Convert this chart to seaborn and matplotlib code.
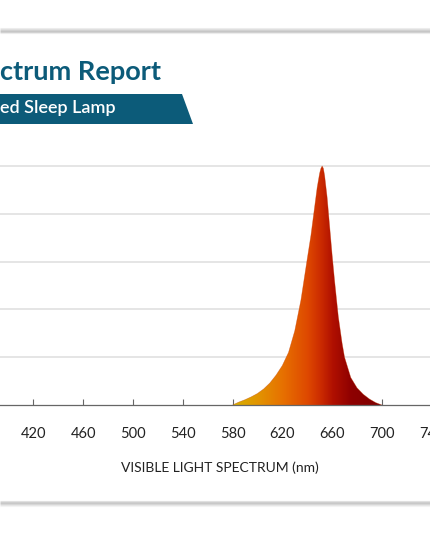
import numpy as np
import matplotlib
matplotlib.use("Agg")
import matplotlib.pyplot as plt
from matplotlib.colors import LinearSegmentedColormap
from matplotlib.patches import Polygon
import seaborn as sns
import pandas as pd

# ---- data ----
wavelength_nm = [580, 585, 590, 595, 600, 605, 610, 615, 620, 625, 630, 635, 640, 643,
                 646, 648, 650, 651, 652, 653, 654, 656, 658, 660, 662, 665, 668, 670,
                 675, 680, 685, 690, 695, 700]
intensity = [0.0, 0.012, 0.022, 0.034, 0.048, 0.067, 0.092, 0.125, 0.165, 0.22, 0.31, 0.44,
             0.61, 0.71, 0.83, 0.91, 0.97, 0.99, 1.0, 0.99, 0.96, 0.87, 0.75, 0.63,
             0.52, 0.37, 0.26, 0.20, 0.115, 0.072, 0.045, 0.025, 0.01, 0.0]
x_ticks = [420, 460, 500, 540, 580, 620, 660, 700, 740]
y_grid = [0.2, 0.4, 0.6, 0.8, 1.0]
title_text = "ctrum Report"
banner_text = "ed Sleep Lamp"
x_label = "VISIBLE LIGHT SPECTRUM (nm)"

grad_nm = [580, 600, 620, 640, 650, 660, 675, 700]
grad_colors = ["#d6b000", "#e29400", "#e77000", "#de4800", "#cc2c00", "#b01000",
               "#8e0000", "#7d0000"]

df = pd.DataFrame({"wavelength": wavelength_nm, "intensity": intensity})

sns.set_theme(style="white")
plt.rcParams["font.family"] = ["Lato", "DejaVu Sans"]

W, H = 430, 537
fig = plt.figure(figsize=(W / 100, H / 100), dpi=100)
fig.patch.set_facecolor("white")

# background overlay in pixel coordinates
bg = fig.add_axes([0, 0, 1, 1], zorder=0)
bg.set_xlim(0, W)
bg.set_ylim(H, 0)
bg.axis("off")

# card shadows
top_shadow = [(28, "#ededed"), (29, "#e0e0e0"), (30, "#d2d2d2"), (31, "#c6c6c6"),
              (32, "#d0d0d0"), (33, "#ececec")]
bot_shadow = [(501, "#e2e2e2"), (502, "#cfcfcf"), (503, "#c8c8c8"), (504, "#d6d6d6"),
              (505, "#e6e6e6"), (506, "#f3f3f3")]
for yy, c in top_shadow + bot_shadow:
    bg.plot([0, W], [yy, yy], color=c, lw=0.8, solid_capstyle="butt")

# title and banner
teal = "#0c5b79"
bg.text(0, 80, title_text, ha="left", va="baseline", color=teal,
        fontsize=19.5, fontweight="bold")
bg.add_patch(Polygon([(0, 94), (182, 94), (193, 124), (0, 124)], closed=True,
                     facecolor=teal, edgecolor="none"))
bg.text(0, 113, banner_text, ha="left", va="baseline", color="white",
        fontsize=13, fontweight="semibold")

# main axes: 1 nm = 1.245 px, 420 nm at x = 33.3 px
px_per_nm = 1.245
x0_nm, x1_nm = 380, 760
left_px = 33.3 + (x0_nm - 420) * px_per_nm
right_px = 33.3 + (x1_nm - 420) * px_per_nm
ymax = 1.1
base_px = 405
unit_px = 239
ax = fig.add_axes([left_px / W, (H - base_px) / H, (right_px - left_px) / W,
                   ymax * unit_px / H], zorder=1)
ax.set_facecolor("none")
ax.set_xlim(x0_nm, x1_nm)
ax.set_ylim(0, ymax)

for g in y_grid:
    ax.axhline(g, color="#dedede", lw=1.1, zorder=0)

# gradient filled spectrum
cmap = LinearSegmentedColormap.from_list(
    "spec", [((n - grad_nm[0]) / (grad_nm[-1] - grad_nm[0]), c)
             for n, c in zip(grad_nm, grad_colors)])
fill = ax.fill_between(df["wavelength"], 0, df["intensity"], facecolor="none",
                       edgecolor="none")
grad = np.linspace(0, 1, 512).reshape(1, -1)
im = ax.imshow(grad, cmap=cmap, aspect="auto",
               extent=(grad_nm[0], grad_nm[-1], 0, 1.0), origin="lower", zorder=2)
im.set_clip_path(fill.get_paths()[0], transform=ax.transData)
sns.lineplot(data=df, x="wavelength", y="intensity", ax=ax, color="#c43a00",
             lw=0.4, alpha=0.5, zorder=3)

ax.set_xlim(x0_nm, x1_nm)
ax.set_ylim(0, ymax)
ax.set_xticks(x_ticks)
ax.set_xticklabels([str(t) for t in x_ticks])
ax.set_yticks([])
ax.set_ylabel("")
for s in ["left", "right", "top"]:
    ax.spines[s].set_visible(False)
ax.spines["bottom"].set_color("#666666")
ax.spines["bottom"].set_linewidth(0.9)
ax.spines["bottom"].set_zorder(4)
ax.tick_params(axis="x", direction="in", length=4, width=0.8, color="#666666",
               pad=16, labelsize=10.5, labelcolor="#222222", bottom=True)
ax.set_xlabel(x_label, fontsize=10, color="#222222", labelpad=14.5)

fig.savefig("out.png", dpi=100, facecolor="white")
